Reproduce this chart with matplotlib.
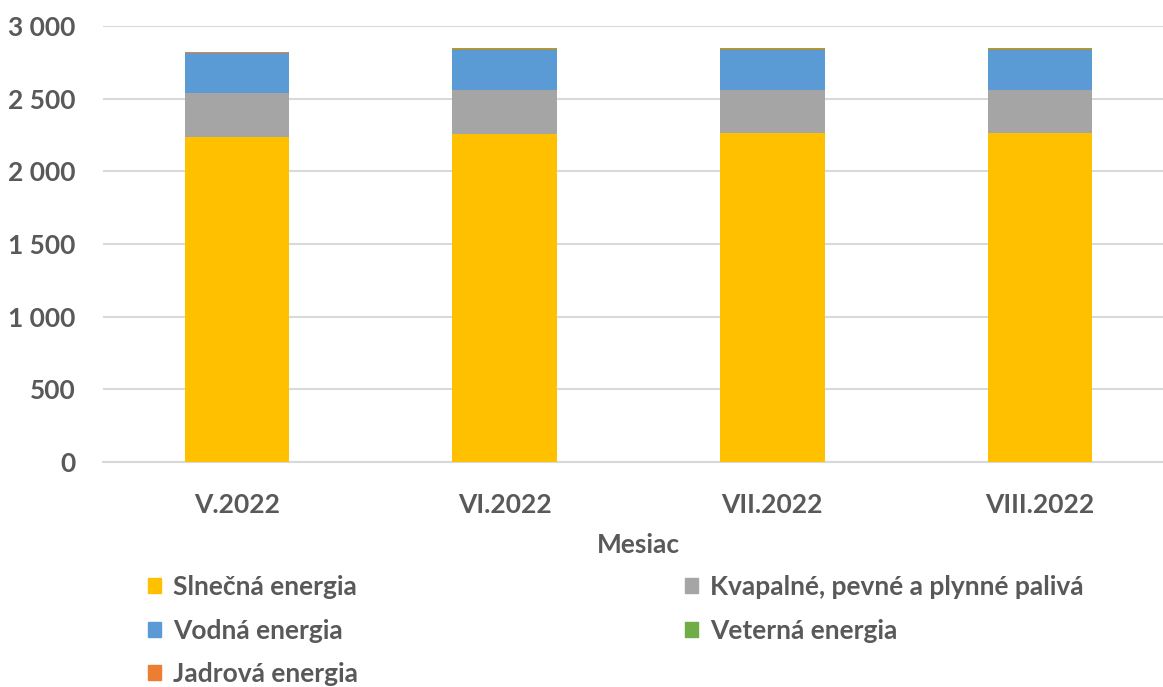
import matplotlib
matplotlib.use("Agg")
import matplotlib.pyplot as plt
from matplotlib.patches import Patch
from matplotlib.ticker import FuncFormatter, MultipleLocator

# data
mesiace = ["V.2022", "VI.2022", "VII.2022", "VIII.2022"]
slnecna = [2238, 2257, 2266, 2266]
palivo = [303, 303, 294, 292]
vodna = [271, 273, 273, 280]
veterna = [1, 9, 9, 2]
jadrova = [7, 6, 6, 10]

series = [
    ("Slnečná energia", slnecna, "#FFC000"),
    ("Kvapalné, pevné a plynné palivá", palivo, "#A5A5A5"),
    ("Vodná energia", vodna, "#5B9BD5"),
    ("Veterná energia", veterna, "#70AD47"),
    ("Jadrová energia", jadrova, "#ED7D31"),
]

plt.rcParams['font.family'] = ['Lato', 'DejaVu Sans']
text_col = "#595959"
fs = 19

fig = plt.figure(figsize=(11.63, 6.87), dpi=100)
ax = fig.add_axes([103 / 1163, 225 / 687, 1071 / 1163, 436 / 687])

x = range(len(mesiace))
bottom = [0] * len(mesiace)
handles = {}
for name, vals, col in series:
    ax.bar(x, vals, width=0.39, bottom=bottom, color=col, zorder=3)
    bottom = [b + v for b, v in zip(bottom, vals)]
    handles[name] = Patch(color=col, label=name)

ax.set_xlim(-0.5, 3.5)
ax.set_ylim(0, 3000)
ax.yaxis.set_major_locator(MultipleLocator(500))
ax.yaxis.set_major_formatter(FuncFormatter(lambda v, p: f"{int(v):,}".replace(",", " ")))
ax.set_xticks(list(x))
ax.set_xticklabels(mesiace)
ax.grid(axis='y', color="#D9D9D9", linewidth=1.5, zorder=0)
for s in ["top", "right", "left"]:
    ax.spines[s].set_visible(False)
ax.spines["bottom"].set_color("#D9D9D9")
ax.spines["bottom"].set_linewidth(1.5)
ax.tick_params(axis='both', length=0, labelsize=fs, labelcolor=text_col)
ax.tick_params(axis='y', pad=20)
ax.tick_params(axis='x', pad=22)
for lbl in ax.get_xticklabels() + ax.get_yticklabels():
    lbl.set_fontweight('bold')

fig.text(638 / 1163, 1 - 545 / 687, "Mesiac", ha='center', va='center',
         fontsize=fs, fontweight='bold', color=text_col)

order = ["Slnečná energia", "Vodná energia", "Jadrová energia",
         "Kvapalné, pevné a plynné palivá", "Veterná energia"]
leg = fig.legend([handles[n] for n in order], order, ncol=2,
                 loc='upper left', bbox_to_anchor=(148 / 1163, 1 - 575 / 687),
                 frameon=False, fontsize=fs, handlelength=0.5, handleheight=0.5,
                 handletextpad=0.45, columnspacing=12.4, labelspacing=0.74,
                 borderpad=0, borderaxespad=0)
for t in leg.get_texts():
    t.set_color(text_col)
    t.set_fontweight('bold')

fig.savefig("out.png", dpi=100)
